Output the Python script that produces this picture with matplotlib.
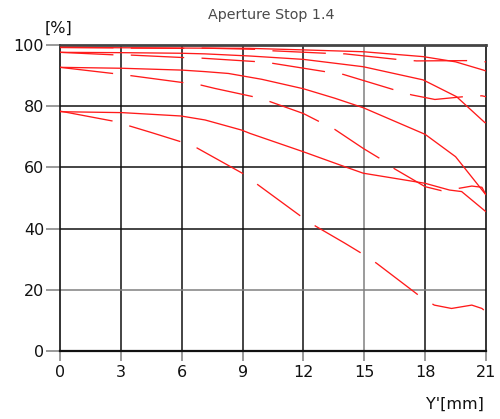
import matplotlib
matplotlib.use("Agg")
import matplotlib.pyplot as plt

plt.rcParams['lines.scale_dashes'] = False
plt.rcParams['font.family'] = ['DejaVu Sans']

# Image height in mm and MTF contrast in %
s5_x = [0, 3, 6, 9.37, 12, 14.95, 17.9, 19.5, 20.87, 21]
s5_y = [99.2, 99.1, 99.0, 98.9, 98.4, 97.8, 96.2, 94.5, 91.8, 91.5]
t5_x = [0, 2.6, 3.4, 6.0, 6.98, 9.6, 10.5, 13.1, 14.05, 16.6, 17.58, 20.1, 21]
t5_y = [99.2, 99.1, 99.0, 98.9, 99.0, 98.6, 98.1, 97.3, 97.1, 95.3, 94.8, 94.9, 94.5]

s10_x = [0, 3, 6, 7.15, 9.37, 12, 14.95, 17.9, 19.55, 20.95, 21]
s10_y = [97.6, 97.5, 97.3, 97.1, 96.4, 95.3, 92.9, 88.6, 83.1, 74.6, 74.8]
t10_x = [0, 2.6, 3.5, 6.08, 6.98, 9.6, 10.5, 13.06, 13.96, 16.5, 17.33, 18.48, 19.88, 20.8, 21]
t10_y = [97.6, 96.8, 96.7, 95.9, 95.7, 94.6, 94.0, 91.3, 90.4, 85.3, 83.7, 82.2, 83.1, 83.4, 83.1]

s20_x = [0, 3.04, 6.0, 7.15, 8.3, 9.94, 12, 13.55, 14.95, 18.0, 19.5, 21]
s20_y = [92.7, 92.4, 91.8, 91.3, 90.7, 88.8, 85.7, 82.6, 79.5, 70.8, 63.5, 51]
t20_x = [0, 2.6, 3.47, 6.08, 6.95, 7.64, 9.53, 10.35, 12.0, 12.8, 13.55, 14.95, 15.77,
         16.5, 18.0, 18.8, 19.7, 20.3, 20.8, 21]
t20_y = [92.7, 90.7, 90.0, 87.7, 86.9, 85.8, 83.1, 81.5, 77.6, 74.9, 72.4, 66.2, 62.9,
         59.5, 53.7, 52.4, 53.2, 53.9, 53.5, 51]

s40_x = [0, 3.06, 5.96, 7.15, 8.95, 9.37, 12, 14.05, 14.95, 18.0, 19.2, 19.8, 21]
s40_y = [78.2, 77.9, 76.8, 75.5, 72.2, 71.1, 65.1, 60.2, 58.1, 54.8, 52.6, 52.1, 45.5]
t40_x = [0, 2.56, 3.4, 4.5, 5.95, 6.74, 9.04, 9.74, 11.88, 12.6, 14.05, 14.87, 15.6,
         17.7, 18.45, 19.3, 20.3, 20.8, 21]
t40_y = [78.4, 75.2, 73.6, 71.4, 68.4, 66.4, 57.9, 54.4, 44.0, 40.8, 35.2, 31.9, 28.7,
         18.1, 15.0, 13.9, 15.0, 13.9, 12.8]

x_ticks = [0, 3, 6, 9, 12, 15, 18, 21]
y_ticks = [0, 20, 40, 60, 80, 100]

fig = plt.figure(figsize=(5.0, 4.19), dpi=100)
ax = fig.add_axes([0.12, 0.1623, 0.852, 0.7303])
ax.set_xlim(0, 21)
ax.set_ylim(0, 100)

# grid
for xv in x_ticks[1:-1]:
    c = '#808080' if xv in (15,) else '#111111'
    ax.axvline(xv, color=c, lw=1.1, zorder=1)
for yv in y_ticks[1:-1]:
    c = '#808080' if yv == 20 else '#111111'
    ax.axhline(yv, color=c, lw=1.1, zorder=1)

red = '#ff1a1a'
lw = 0.95
dash = (0, (38.5, 12.5))
for xs, ys in [(s5_x, s5_y), (s10_x, s10_y), (s20_x, s20_y), (s40_x, s40_y)]:
    ax.plot(xs, ys, color=red, lw=lw, zorder=3, solid_capstyle='butt')
for xs, ys in [(t5_x, t5_y), (t10_x, t10_y), (t20_x, t20_y), (t40_x, t40_y)]:
    ax.plot(xs, ys, color=red, lw=lw, ls=dash, zorder=3, dash_capstyle='butt')

for side in ['left', 'right']:
    ax.spines[side].set_color('#111111')
    ax.spines[side].set_linewidth(1.2)
ax.spines['bottom'].set_color('#111111')
ax.spines['bottom'].set_linewidth(1.6)
ax.spines['top'].set_color('#444444')
ax.spines['top'].set_linewidth(2.0)

ax.set_xticks(x_ticks)
ax.set_yticks(y_ticks)
ax.set_xticklabels([str(v) for v in x_ticks])
ax.set_yticklabels([str(v) for v in y_ticks])
ax.tick_params(axis='y', length=10, width=1.2, color='#888888', pad=1.5,
               labelsize=11.5, labelcolor='#111111')
ax.tick_params(axis='x', length=7, width=1.2, color='#888888', pad=3,
               labelsize=11.5, labelcolor='#111111')

fig.text(0.543, 0.965, 'Aperture Stop 1.4', ha='center', va='center',
         fontsize=10.3, color='#4a4a4a')
fig.text(0.118, 0.933, '[%]', ha='center', va='center', fontsize=11.5, color='#111111')
fig.text(0.967, 0.034, "Y'[mm]", ha='right', va='center', fontsize=11.5, color='#111111')

fig.savefig('out.png', dpi=100)
